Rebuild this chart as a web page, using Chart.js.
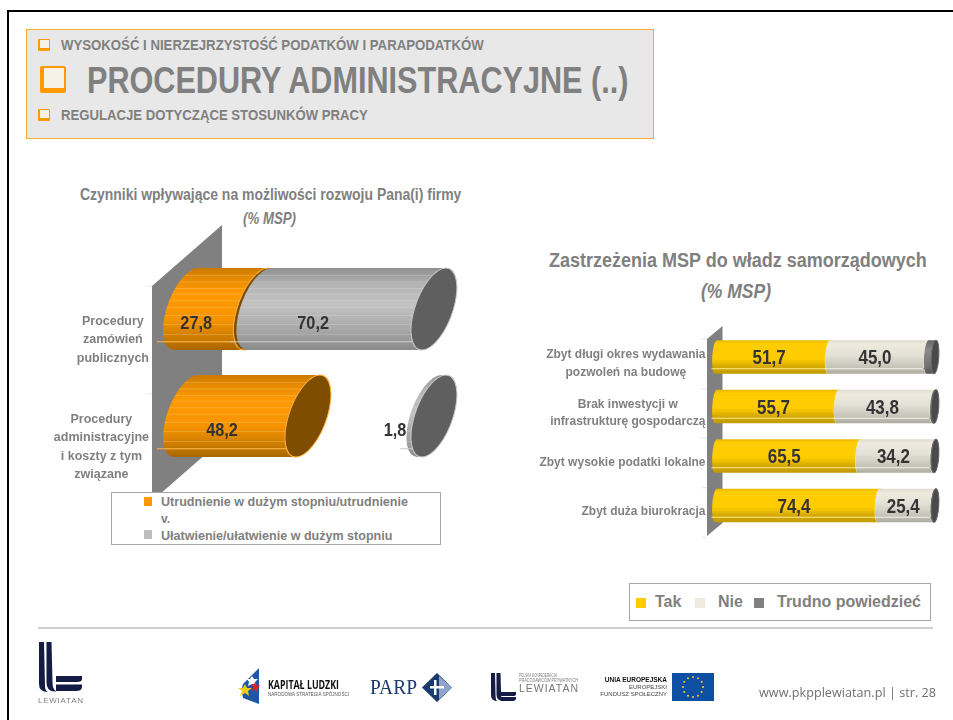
<!DOCTYPE html>
<html lang="pl">
<head>
<meta charset="utf-8">
<title>Procedury administracyjne</title>
<script src="https://cdn.jsdelivr.net/npm/chart.js@4/dist/chart.umd.js"></script>
<style>
html,body{margin:0;padding:0;background:#fff;overflow:hidden}
#page{position:relative;width:953px;height:720px;overflow:hidden;font-family:"Liberation Sans",Arial,sans-serif;font-weight:bold;color:#808080}
#frameT{position:absolute;left:7px;top:10px;right:0;height:2px;background:#000}
#frameL{position:absolute;left:7px;top:10px;bottom:0;width:2px;background:#000}
#head{position:absolute;left:26px;top:29px;width:626px;height:108px;background:#e8e8e8;border:1px solid #ffab33}
.t{position:absolute;white-space:nowrap;transform-origin:0 50%;line-height:1}
.bul{position:absolute;box-sizing:border-box;background:#f6f2e6;border:1px solid #ff9900;border-left-width:2px;border-bottom-width:3px;border-radius:1px}
canvas{position:absolute}
.lg{position:absolute;box-sizing:border-box;background:#fff;border:1px solid #a6a6a6}
.sw{position:absolute}
#foot{position:absolute;left:0;top:0}
</style>
</head>
<body>
<div id="page">
<div id="frameT"></div><div id="frameL"></div>
<div id="head"></div>
<div class="bul" style="left:38px;top:39px;width:12px;height:12px"></div>
<div class="t" id="h1" style="left:61px;top:37px;font-size:15px">WYSOKOŚĆ I NIERZEJRZYSTOŚĆ PODATKÓW I PARAPODATKÓW</div>
<div class="bul" style="left:40px;top:66px;width:26px;height:27px;border-width:2px 2px 5px 4px;border-radius:2px"></div>
<div class="t" id="h2" style="left:87px;top:62px;font-size:37px">PROCEDURY ADMINISTRACYJNE (..)</div>
<div class="bul" style="left:38px;top:109px;width:12px;height:12px"></div>
<div class="t" id="h3" style="left:61px;top:107px;font-size:15px">REGULACJE DOTYCZĄCE STOSUNKÓW PRACY</div>

<div class="t" id="tl1" style="left:80px;top:187px;font-size:16px">Czynniki wpływające na możliwości rozwoju Pana(i) firmy</div>
<div class="t" id="tl2" style="left:243px;top:211px;font-size:16px;font-style:italic">(% MSP)</div>
<div class="t" id="tr1" style="left:549px;top:250px;font-size:20px">Zastrzeżenia MSP do władz samorządowych</div>
<div class="t" id="tr2" style="left:701px;top:281px;font-size:20px;font-style:italic">(% MSP)</div>

<canvas id="left" width="440" height="300" style="left:40px;top:220px;width:440px;height:300px"></canvas>
<canvas id="right" width="423" height="230" style="left:530px;top:320px;width:423px;height:230px"></canvas>

<div class="lg" style="left:111px;top:492px;width:330px;height:53px"></div>
<div class="sw" style="left:144px;top:497px;width:8px;height:9px;background:#ff9900"></div>
<div class="t" id="ll1" style="left:161px;top:496px;font-size:12px">Utrudnienie w dużym stopniu/utrudnienie</div>
<div class="t" style="left:161px;top:513px;font-size:12px">v.</div>
<div class="sw" style="left:144px;top:530px;width:8px;height:9px;background:#bdbdbd"></div>
<div class="t" id="ll2" style="left:161px;top:530px;font-size:12px">Ułatwienie/ułatwienie w dużym stopniu</div>

<div class="lg" style="left:629px;top:583px;width:302px;height:38px"></div>
<div class="sw" style="left:636px;top:598px;width:10px;height:10px;background:#ffcc00"></div>
<div class="t" style="left:655px;top:594px;font-size:16px">Tak</div>
<div class="sw" style="left:695px;top:598px;width:10px;height:10px;background:#eeeade"></div>
<div class="t" style="left:718px;top:594px;font-size:16px">Nie</div>
<div class="sw" style="left:754px;top:598px;width:10px;height:10px;background:#808080"></div>
<div class="t" style="left:777px;top:594px;font-size:16px">Trudno powiedzieć</div>

<svg id="foot" width="953" height="720" viewBox="0 0 953 720" xmlns="http://www.w3.org/2000/svg">
  <rect x="38" y="627" width="895" height="2" fill="#cfcfcf"/>
  <g fill="#141b45">
    <path d="M39 642h5l1 44q0 5 3 6q-9 0 -9 -8z"/>
    <path d="M46.500 642h5l1 40q0 8 4 9.500q-10 1 -10 -9z"/>
    <path d="M56 676h26v3q0 3 -5 3h-21z"/>
    <path d="M56 684.500h26v2q0 4.500 -6 4.500h-20z"/>
    <path d="M491 673h4l.6 24q0 3 2 4q-6.600 0 -6.600 -6z"/>
    <path d="M496.500 673h4l.6 22q0 5 3 6q-7.600 0 -7.600 -6z"/>
    <path d="M501 692h15v2q0 2 -3 2h-12z"/>
    <path d="M501 697h15v1q0 3 -3 3h-12z"/>
  </g>
  <text x="38" y="703" font-family="Liberation Sans" font-weight="400" font-size="8" fill="#808080" textLength="45">LEWIATAN</text>
  <path d="M259 668v36l-16 -6q-2 -8 0 -14z" fill="#1f56a3"/>
  <path d="M252 676l2 3l4 0l-3 3l1 4l-4 -2l-4 2l1 -4l-2 -3l3 0z" fill="#fff"/>
  <path d="M245 684l2 4l5 0l-4 3l1 5l-4 -3l-5 3l2 -5l-4 -3l5 0z" fill="#f3cb1d"/>
  <path d="M255 682l1 3l4 0l-2 3l0 4l-3 -2l-3 1l1 -4l-2 -2l3 -1z" fill="#d5232e"/>
  <text x="268" y="689" font-family="Open Sans" font-weight="700" font-size="11.500" fill="#111" textLength="71" lengthAdjust="spacingAndGlyphs">KAPITAŁ LUDZKI</text>
  <text x="268" y="695.500" font-family="Liberation Sans" font-weight="400" font-size="5" fill="#555" textLength="81" lengthAdjust="spacingAndGlyphs">NARODOWA STRATEGIA SPÓJNOŚCI</text>
  <text x="370" y="694" font-family="Liberation Serif" font-weight="400" font-size="20" fill="#1a3a6b" textLength="47" lengthAdjust="spacingAndGlyphs">PARP</text>
  <path d="M437 673l15 14.500l-15 14.500l-15 -14.500z" fill="#1a3a6b"/>
  <path d="M439 676l13 11.500l-13 12z" fill="#8fa3cb"/>
  <path d="M434 680h2.500v15h-2.500zM430 686h14v2.500h-14z" fill="#fff"/>
  <text x="519" y="676.500" font-family="Liberation Sans" font-weight="400" font-size="4.500" fill="#777" textLength="38" lengthAdjust="spacingAndGlyphs">POLSKA KONFEDERACJA</text>
  <text x="519" y="682" font-family="Liberation Sans" font-weight="400" font-size="4.500" fill="#777" textLength="59" lengthAdjust="spacingAndGlyphs">PRACODAWCÓW PRYWATNYCH</text>
  <text x="519" y="692" font-family="Liberation Sans" font-weight="400" font-size="10.500" fill="#777" textLength="59">LEWIATAN</text>
  <g font-family="Liberation Sans" text-anchor="end" font-size="6">
    <text x="667" y="682" font-weight="700" fill="#111" font-size="6.500">UNIA EUROPEJSKA</text>
    <text x="667" y="689" font-weight="400" fill="#444">EUROPEJSKI</text>
    <text x="667" y="696" font-weight="400" fill="#444">FUNDUSZ SPOŁECZNY</text>
  </g>
  <rect x="672" y="673" width="42" height="28" fill="#0d4fa3"/>
  <g id="stars" fill="#f6d21f"></g>
  <text x="759" y="697" font-family="Open Sans" font-weight="400" font-size="12.500" fill="#707070" textLength="177" lengthAdjust="spacingAndGlyphs">www.pkpplewiatan.pl | str. 28</text>
</svg>
</div>

<script>
// ---- data ----
const factorCategories = [["Procedury","zamówień","publicznych"],["Procedury","administracyjne","i koszty z tym","związane"]];
const hardship = [27.8, 48.2];
const factorGap = [0, 48.0];
const ease = [70.2, 1.8];

const reservationCategories = [["Zbyt długi okres wydawania","pozwoleń na budowę"],["Brak inwestycji w","infrastrukturę gospodarczą"],["Zbyt wysokie podatki lokalne"],["Zbyt duża biurokracja"]];
const yes = [51.7, 55.7, 65.5, 74.4];
const no = [45.0, 43.8, 34.2, 25.4];
const hardToSay = [3.3, 0.5, 0.3, 0.2];

// ---- styles of the cylinders ----
const ORANGE = {stops:[[0,'#c97a00'],[.12,'#e58a00'],[.3,'#ff9900'],[.62,'#f79400'],[.85,'#cc7c00'],[1,'#a96600']],edge:'#ffb340',cap:'#7f4d00',streak:'rgba(255,235,200,.22)'};
const GREY = {stops:[[0,'#8f8f8f'],[.2,'#b4b4b4'],[.45,'#c2c2c2'],[.75,'#a8a8a8'],[1,'#8a8a8a']],edge:'#c8c8c8',cap:'#5f5f5f',streak:'rgba(255,255,255,.16)',inset:3};
const YELLOW = {stops:[[0,'#e6b800'],[.1,'#ffcc00'],[.55,'#ffcc00'],[.78,'#d6ab00'],[1,'#c09a00']],edge:'#ffe88a',cap:'#a88600',streak:'rgba(255,255,255,.05)'};
const BEIGE = {stops:[[0,'#dedccf'],[.12,'#eeeade'],[.45,'#e2e0d4'],[.8,'#c5c4b8'],[1,'#adaca0']],edge:'#f4f2e8',cap:'#888',streak:'rgba(255,255,255,.05)'};
const DARK = {stops:[[0,'#666'],[.3,'#8a8a8a'],[.75,'#737373'],[1,'#555']],edge:'#6a6a6a',cap:'#4a4a4a',streak:'rgba(255,255,255,0)'};

function cylinder(ctx, el, look, geo){
  const wide = Math.abs(el.x-el.base) > 20;
  const x1 = el.base + (wide && look.inset ? look.inset : 0), x2 = el.x, b = el.height/2, a = geo.rx, k = geo.skew;
  ctx.save();
  ctx.transform(1,0,k,1,0,el.y);
  const g = ctx.createLinearGradient(0,-b,0,b);
  look.stops.forEach(s=>g.addColorStop(s[0],s[1]));
  ctx.beginPath();
  ctx.ellipse(x1,0,a,b,0,Math.PI/2,Math.PI*1.5);
  ctx.ellipse(x2,0,a,b,0,-Math.PI/2,Math.PI/2);
  ctx.closePath();
  ctx.fillStyle = g; ctx.fill();
  ctx.save(); ctx.clip();
  ctx.strokeStyle = look.streak; ctx.lineWidth = 1;
  geo.streaks.forEach(f=>{ctx.beginPath();ctx.moveTo(x1-a,f*b);ctx.lineTo(x2,f*b);ctx.stroke();});
  ctx.restore();
  ctx.strokeStyle = look.edge; ctx.lineWidth = 1; ctx.stroke();
  ctx.beginPath(); ctx.ellipse(x2,0,a,b,0,0,Math.PI*2);
  ctx.fillStyle = look.cap; ctx.fill();
  ctx.strokeStyle = look.edge; ctx.stroke();
  ctx.restore();
}

function squeezed(ctx, txt, x, y, sx){
  ctx.save(); ctx.translate(x,y); ctx.scale(sx,1); ctx.fillText(txt,0,0); ctx.restore();
}

const cylinderPlugin = {
  id:'cylinders',
  beforeDatasetsDraw(chart, args, o){
    const ctx = chart.ctx, xS = chart.scales.x, yS = chart.scales.y, x0 = xS.getPixelForValue(0);
    // faint tick marks and the back wall
    ctx.save();
    ctx.strokeStyle = '#e6e6e6'; ctx.lineWidth = 1;
    o.ticks.forEach(t=>{
      const px = yS.getPixelForValue(t) ;
      ctx.beginPath(); ctx.moveTo(x0+o.wall.l-5, px+o.tickShift); ctx.lineTo(x0+o.wall.l, px+o.tickShift); ctx.stroke();
    });
    ctx.fillStyle = '#808080';
    ctx.beginPath();
    ctx.moveTo(x0+o.wall.l, o.wall.tl); ctx.lineTo(x0+o.wall.r, o.wall.tr);
    ctx.lineTo(x0+o.wall.r, o.wall.br); ctx.lineTo(x0+o.wall.l, o.wall.bl);
    ctx.closePath(); ctx.fill();
    ctx.restore();
    // cylinders, first series at the back
    chart.data.datasets.forEach((ds,i)=>{
      if(!ds.look) return;
      chart.getDatasetMeta(i).data.forEach(el=>{ if(Math.abs(el.x-el.base)>0.01) cylinder(ctx,el,ds.look,o.geo); });
    });
    // values
    ctx.save();
    ctx.font = o.valueFont; ctx.fillStyle = '#333'; ctx.textBaseline = 'middle';
    chart.data.datasets.forEach((ds,i)=>{
      if(!ds.showValue) return;
      chart.getDatasetMeta(i).data.forEach((el,j)=>{
        const txt = ds.data[j].toFixed(1).replace('.',',');
        const y = el.y + o.valueLift;
        if(Math.abs(el.x-el.base) < o.narrow){
          ctx.textAlign='right'; squeezed(ctx,txt,el.base+o.narrowShift,y,o.valueSqueeze);
        } else {
          ctx.textAlign='center'; squeezed(ctx,txt,(el.x+el.base)/2+o.valueShift+(ds.valueNudge||0),y,o.valueSqueeze);
        }
      });
    });
    ctx.restore();
    // category labels: each line centred, the block right-aligned to the wall
    ctx.save();
    ctx.font = o.labelFont; ctx.fillStyle = '#808080'; ctx.textBaseline='middle'; ctx.textAlign='center';
    chart.data.labels.forEach((lines,i)=>{
      const w = Math.max(...lines.map(s=>ctx.measureText(s).width))*o.labelSqueeze;
      const cx = x0 + o.labelRight - w/2, cy = yS.getPixelForValue(i) + o.labelShift;
      lines.forEach((s,n)=>squeezed(ctx,s,cx,cy+(n-(lines.length-1)/2)*o.labelLead,o.labelSqueeze));
    });
    ctx.restore();
    return false;
  }
};

function barChart(id, labels, datasets, padding, barPct, opts){
  return new Chart(document.getElementById(id),{
    type:'bar',
    data:{labels,datasets:datasets.map(d=>Object.assign({categoryPercentage:1,barPercentage:barPct,backgroundColor:d.look?d.look.stops[2][1]:'transparent'},d))},
    plugins:[cylinderPlugin],
    options:{
      indexAxis:'y',responsive:false,animation:false,
      layout:{padding},
      scales:{
        x:{stacked:true,min:0,max:100,display:false},
        y:{stacked:true,display:false}
      },
      plugins:{legend:{display:false},tooltip:{enabled:false},cylinders:opts}
    }
  });
}

barChart('left',factorCategories,[
  {label:'Utrudnienie w dużym stopniu/utrudnienie',data:hardship,look:ORANGE,showValue:true},
  {label:'',data:factorGap},
  {label:'Ułatwienie/ułatwienie w dużym stopniu',data:ease,look:GREY,showValue:true,valueNudge:-7}
],{left:146,right:41,top:35.5,bottom:50.5},0.766,{
  geo:{rx:19.6,skew:-12/41,streaks:[-.82,-.66,-.5,-.36,-.2,-.04,.16,.38,.62,.8]},
  wall:{l:-34,r:36,tl:66,tr:5,br:220,bl:281},
  ticks:[-.5,.5,1.5],tickShift:31,
  valueFont:'bold 18.5px "Liberation Sans"',valueSqueeze:.88,valueShift:-25,valueLift:15,narrow:20,narrowShift:-23,
  labelFont:'bold 12.5px "Liberation Sans"',labelSqueeze:1,labelRight:-37,labelShift:31,labelLead:18.5
});

barChart('right',reservationCategories,[
  {label:'Tak',data:yes,look:YELLOW,showValue:true},
  {label:'Nie',data:no,look:BEIGE,showValue:true},
  {label:'Trudno powiedzieć',data:hardToSay,look:DARK}
],{left:186,right:18,top:12.25,bottom:19.75},0.68,{
  geo:{rx:3.8,skew:-1/17,streaks:[-.6,-.2,.3,.7]},
  wall:{l:-9,r:6.5,tl:19,tr:6,br:203,bl:216},
  ticks:[-.5,.5,1.5,2.5,3.5],tickShift:7,
  valueFont:'bold 19.5px "Liberation Sans"',valueSqueeze:.87,valueShift:-3.500,valueLift:2,narrow:5,narrowShift:-3,
  labelFont:'bold 12.5px "Liberation Sans"',labelSqueeze:.96,labelRight:-10.500,labelShift:6.5,labelLead:17.5
});

// fit the compressed slide text to its measured widths
[['h1',423],['h2',541],['h3',307],['tl1',381],['tl2',53],['tr1',378],['tr2',70],['ll1',247],['ll2',231]].forEach(([id,w])=>{
  const e=document.getElementById(id); e.style.transform='scaleX('+(w/e.offsetWidth)+')';
});
// EU flag stars
const sg=document.getElementById('stars');
for(let i=0;i<12;i++){const c=document.createElementNS('http://www.w3.org/2000/svg','circle');
  c.setAttribute('cx',693+10*Math.cos(i*Math.PI/6));c.setAttribute('cy',687+10*Math.sin(i*Math.PI/6));c.setAttribute('r',1);sg.appendChild(c);}
</script>
</body>
</html>
